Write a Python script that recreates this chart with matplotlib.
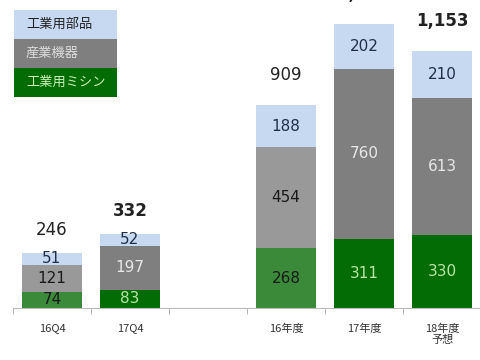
import matplotlib.pyplot as plt
from matplotlib.patches import Rectangle

plt.rcParams['font.family'] = ['Noto Sans CJK JP', 'DejaVu Sans']

categories = ["16Q4", "17Q4", "", "16年度", "17年度", "18年度\n予想"]
positions = [0, 1, 3, 4, 5]
sewing = [74, 83, 268, 311, 330]       # 工業用ミシン
machinery = [121, 197, 454, 760, 613]  # 産業機器
parts = [51, 52, 188, 202, 210]        # 工業用部品
totals = ["246", "332", "909", "1,273", "1,153"]
bold_total = [False, True, False, True, True]
light = [True, False, True, False, False]  # older periods drawn in lighter shades

blue = "#c6d9f1"
gray_light, gray_dark = "#999999", "#7f7f7f"
green_light, green_dark = "#3a8a3a", "#046c04"

fig = plt.figure(figsize=(4.81, 3.60), dpi=100)
ax = fig.add_axes([0.027, 0.144, 0.973, 0.856])

w = 0.77
for i, x in enumerate(positions):
    g = green_light if light[i] else green_dark
    m = gray_light if light[i] else gray_dark
    s, mc, p = sewing[i], machinery[i], parts[i]
    ax.bar(x, s, w, color=g)
    ax.bar(x, mc, w, bottom=s, color=m)
    ax.bar(x, p, w, bottom=s + mc, color=blue)
    fs = 11
    if light[i]:
        c_s, c_m, c_p = "#1a1a1a", "#1a1a1a", "#1f2f4a"
    else:
        c_s, c_m, c_p = "#b8e6a8", "#e8e8e8", "#1f2f4a"
    ax.text(x, s / 2, str(s), ha="center", va="center", color=c_s, fontsize=fs,
            family="DejaVu Sans")
    ax.text(x, s + mc / 2, str(mc), ha="center", va="center", color=c_m, fontsize=fs,
            family="DejaVu Sans")
    ax.text(x, s + mc + p / 2, str(p), ha="center", va="center", color=c_p, fontsize=fs,
            family="DejaVu Sans")
    tot = s + mc + p
    off = 105 if x < 2 else 135
    ax.text(x, tot + off, totals[i], ha="center", va="center", fontsize=12,
            fontweight="bold" if bold_total[i] else "normal", color="#222222",
            family="DejaVu Sans", clip_on=False)

ax.set_xlim(-0.5, 5.5)
ax.set_ylim(0, 1381)
ax.set_xticks(range(len(categories)))
ax.set_xticklabels(categories, fontsize=8, color="#333333")
ax.tick_params(axis="x", length=0, pad=11)
ax.set_xticks([k - 0.5 for k in range(7)], minor=True)
ax.tick_params(axis="x", which="minor", length=4, color="#aaaaaa", direction="out")
ax.set_yticks([])
for sp in ["top", "left", "right"]:
    ax.spines[sp].set_visible(False)
ax.spines["bottom"].set_color("#bbbbbb")

# legend drawn as stacked coloured boxes
legend_items = [("工業用部品", blue, "#222222"),
                ("産業機器", gray_dark, "#dddddd"),
                ("工業用ミシン", green_dark, "#c8f0b8")]
bx, bw, bh = 14 / 481, 103 / 481, 29 / 360
for k, (label, col, tc) in enumerate(legend_items):
    by = 1 - (10 + 29 * (k + 1)) / 360
    fig.patches.append(Rectangle((bx, by), bw, bh, transform=fig.transFigure,
                                 facecolor=col, edgecolor="none"))
    fig.text(bx + 12 / 481, by + bh / 2, label, ha="left", va="center",
             fontsize=9.5, color=tc)

fig.savefig("out.png", dpi=100)
